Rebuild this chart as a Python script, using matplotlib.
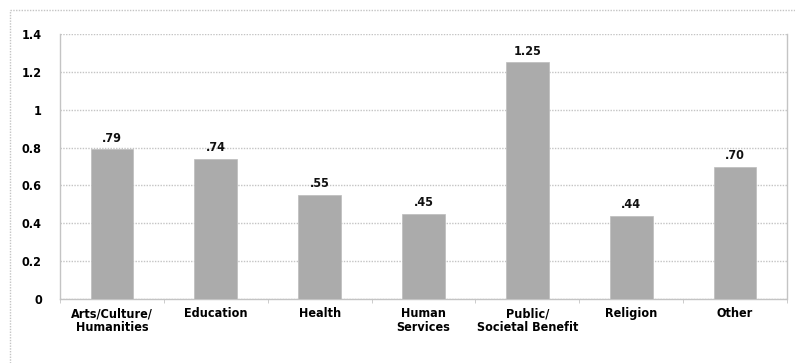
import matplotlib
matplotlib.use("Agg")
import matplotlib.pyplot as plt
from matplotlib.lines import Line2D

categories = ["Arts/Culture/\nHumanities", "Education", "Health", "Human\nServices",
              "Public/\nSocietal Benefit", "Religion", "Other"]
values = [0.79, 0.74, 0.55, 0.45, 1.25, 0.44, 0.70]
labels = [".79", ".74", ".55", ".45", "1.25", ".44", ".70"]
yticks = [0, 0.2, 0.4, 0.6, 0.8, 1, 1.2, 1.4]
ytick_labels = ["0", "0.2", "0.4", "0.6", "0.8", "1", "1.2", "1.4"]

plt.rcParams['font.family'] = ['DejaVu Sans']
fig = plt.figure(figsize=(7.95, 3.63), dpi=100)
ax = fig.add_axes([60/795, 1 - 299/363, (787-60)/795, (299-34)/363])

grid_c = "#c4c4c4"
x = list(range(len(categories)))
ax.bar(x, values, width=0.41, color="#ababab", edgecolor="#bdbdbd", linewidth=0.5, zorder=3)
for xi, v, lab in zip(x, values, labels):
    ax.text(xi, v + 0.025, lab, ha="center", va="bottom", fontsize=9,
            fontweight="bold", fontstretch="condensed", color="#111111")

ax.set_xlim(-0.5, len(categories) - 0.5)
ax.set_ylim(0, 1.4)
ax.set_yticks(yticks)
ax.set_yticklabels(ytick_labels, fontsize=9, fontweight="bold", fontstretch="condensed")
ax.set_xticks(x)
ax.set_xticklabels(categories, fontsize=9, fontweight="bold", fontstretch="condensed",
                   linespacing=1.1, va="top")
ax.tick_params(axis="x", length=0, pad=6)
ax.tick_params(axis="y", length=0, pad=13)
ax.set_xticks([i + 0.5 for i in range(-1, len(categories))], minor=True)
ax.tick_params(axis="x", which="minor", length=3, color=grid_c)
ax.yaxis.grid(True, color=grid_c, linestyle=(0, (1, 1)), linewidth=1.0, zorder=0)
for s in ["top"]:
    ax.spines[s].set_visible(False)
for s in ["left", "right", "bottom"]:
    ax.spines[s].set_color(grid_c)
    ax.spines[s].set_linestyle((0, (1, 1)))
    ax.spines[s].set_linewidth(1.0)

# outer frame
fig.add_artist(Line2D([10/795, 1], [1 - 10/363, 1 - 10/363], transform=fig.transFigure,
                      color=grid_c, linewidth=1.0, linestyle=(0, (1, 1))))
fig.add_artist(Line2D([10/795, 10/795], [0, 1 - 10/363], transform=fig.transFigure,
                      color=grid_c, linewidth=1.0, linestyle=(0, (1, 1))))

fig.savefig("out.png", dpi=100)
